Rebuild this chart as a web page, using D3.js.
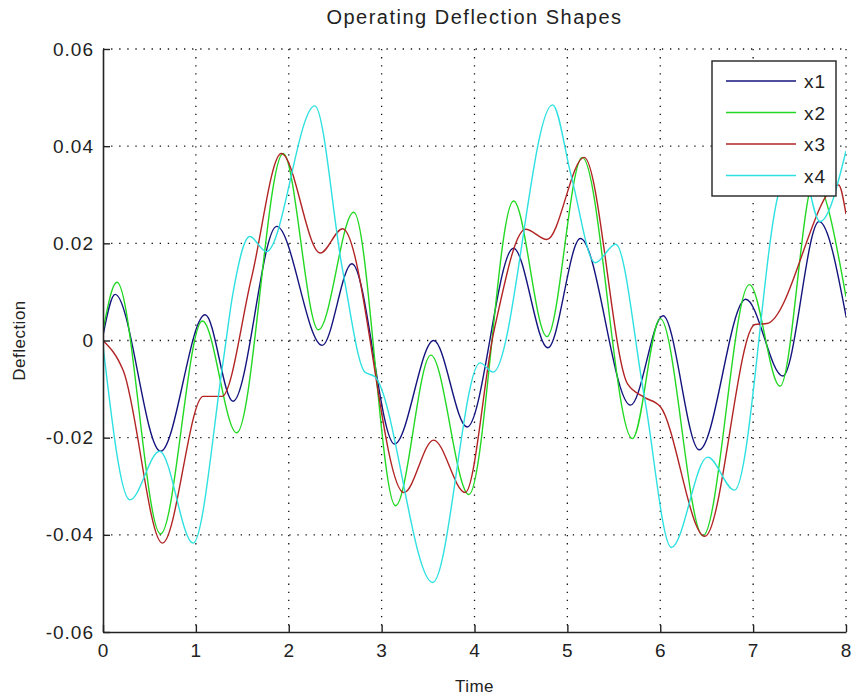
<!DOCTYPE html>
<html>
<head>
<meta charset="utf-8">
<script src="https://cdn.jsdelivr.net/npm/d3@7/dist/d3.min.js"></script>
<style>
  body { margin: 0; background: #fff; }
  text { font-family: "Liberation Sans", Arial, sans-serif; fill: #222; }
</style>
</head>
<body>
<script>
// values: [time, deflection] at peaks, troughs and shoulders
var x1 = [[0, 0.001], [0.13, 0.0095], [0.62, -0.0228], [1.1, 0.0053], [1.4, -0.0125],
          [1.87, 0.0235], [2.36, -0.001], [2.68, 0.0158], [3.14, -0.0213], [3.56, 0.0],
          [3.92, -0.0178], [4.42, 0.019], [4.79, -0.0015], [5.14, 0.021], [5.68, -0.0133],
          [6.03, 0.0051], [6.42, -0.0225], [6.92, 0.0085], [7.32, -0.0073], [7.71, 0.0245],
          [8, 0.005]];
var x2 = [[0, 0.002], [0.15, 0.012], [0.62, -0.0398], [1.07, 0.004], [1.44, -0.019],
          [1.94, 0.0385], [2.32, 0.0022], [2.7, 0.0264], [3.15, -0.034], [3.53, -0.003],
          [3.94, -0.0317], [4.42, 0.0287], [4.78, 0.0008], [5.16, 0.0377], [5.7, -0.0202],
          [6.0, 0.0045], [6.46, -0.0402], [6.96, 0.0115], [7.29, -0.0094], [7.66, 0.033],
          [8, 0.009]];
var x3 = [[0, 0.0], [0.22, -0.0063], [0.64, -0.0417], [1.08, -0.0115], [1.28, -0.0115],
          [1.6, 0.013], [1.92, 0.0385], [2.34, 0.018], [2.58, 0.023], [3.24, -0.0313],
          [3.56, -0.0205], [3.9, -0.0313], [4.21, 0.002], [4.55, 0.0229], [4.78, 0.0208],
          [5.18, 0.0377], [5.65, -0.009], [5.83, -0.0117], [6.0, -0.0136], [6.48, -0.0403],
          [7.02, 0.0033], [7.15, 0.0035], [7.92, 0.032], [8, 0.026]];
var x4 = [[0, -0.001], [0.29, -0.0328], [0.61, -0.0228], [0.97, -0.0417], [1.29, -0.0048],
          [1.4, 0.0098], [1.58, 0.0214], [1.76, 0.0183], [2.28, 0.0483], [2.58, 0.0145],
          [2.82, -0.0065], [2.93, -0.0075], [3.55, -0.0498], [4.06, -0.0046], [4.2, -0.0065],
          [4.84, 0.0485], [5.04, 0.034], [5.3, 0.016], [5.52, 0.0198], [5.83, -0.0117],
          [6.12, -0.0426], [6.51, -0.024], [6.8, -0.0308], [7.27, 0.03], [7.47, 0.04],
          [7.72, 0.0245], [8, 0.039]];

var names = ["x1", "x2", "x3", "x4"];
var colors = ["#14147e", "#22d822", "#b22424", "#2ee0e0"];
var xTicks = [0, 1, 2, 3, 4, 5, 6, 7, 8];
var yTicks = [-0.06, -0.04, -0.02, 0, 0.02, 0.04, 0.06];

var W = 853, H = 698;
var pLeft = 103, pRight = 846, pTop = 49, pBottom = 632;

var svg = d3.select("body").append("svg")
    .attr("width", W)
    .attr("height", H);

var x = d3.scaleLinear().domain([0, 8]).range([pLeft, pRight]);
var y = d3.scaleLinear().domain([-0.06, 0.06]).range([pBottom, pTop]);

// dotted grid
svg.selectAll(".vgrid")
   .data(xTicks.slice(1))
   .enter().append("line")
   .attr("x1", function(d) { return x(d); })
   .attr("x2", function(d) { return x(d); })
   .attr("y1", pTop).attr("y2", pBottom)
   .attr("stroke", "#111").attr("stroke-width", 1.3)
   .attr("stroke-dasharray", "1.3,6.8");

svg.selectAll(".hgrid")
   .data(yTicks.slice(1))
   .enter().append("line")
   .attr("y1", function(d) { return y(d); })
   .attr("y2", function(d) { return y(d); })
   .attr("x1", pLeft).attr("x2", pRight)
   .attr("stroke", "#111").attr("stroke-width", 1.3)
   .attr("stroke-dasharray", "1.3,6.8");

svg.append("clipPath").attr("id", "plot")
   .append("rect").attr("x", pLeft).attr("y", pTop)
   .attr("width", pRight - pLeft).attr("height", pBottom - pTop);

var line = d3.line()
    .x(function(d) { return x(d[0]); })
    .y(function(d) { return y(d[1]); })
    .curve(d3.curveMonotoneX);

var series = [x1, x2, x3, x4];
svg.append("g").attr("clip-path", "url(#plot)")
   .selectAll("path")
   .data(series)
   .enter().append("path")
   .attr("d", line)
   .attr("fill", "none")
   .attr("stroke", function(d, i) { return colors[i]; })
   .attr("stroke-width", 1.4);

// axes: left and bottom, ticks pointing inward
var xAxis = d3.axisBottom(x).tickValues(xTicks).tickSizeInner(-7).tickSizeOuter(0)
    .tickPadding(16).tickFormat(function(d) { return String(d); });
var yAxis = d3.axisLeft(y).tickValues(yTicks).tickSizeInner(-7).tickSizeOuter(0)
    .tickPadding(16).tickFormat(function(d) { return d === 0 ? "0" : d.toFixed(2); });

var gx = svg.append("g").attr("transform", "translate(0," + pBottom + ")").call(xAxis);
var gy = svg.append("g").attr("transform", "translate(" + pLeft + ",0)").call(yAxis);

[gx, gy].forEach(function(g) {
  g.select(".domain").attr("stroke", "#222").attr("stroke-width", 1.6);
  g.selectAll(".tick line").attr("stroke", "#222").attr("stroke-width", 1.4);
  g.selectAll(".tick text").attr("font-size", 19).attr("fill", "#222")
   .attr("letter-spacing", 1)
   .style("font-family", "'Liberation Sans', Arial, sans-serif");
});
gy.selectAll(".tick text").attr("x", -9);
gx.selectAll(".tick text").attr("y", 12);

// title and axis labels
svg.append("text")
   .attr("x", (pLeft + pRight) / 2).attr("y", 24)
   .attr("text-anchor", "middle")
   .attr("font-size", 20)
   .attr("letter-spacing", 1.5)
   .text("Operating Deflection Shapes");

svg.append("text")
   .attr("x", (pLeft + pRight) / 2).attr("y", 692)
   .attr("text-anchor", "middle")
   .attr("font-size", 17)
   .attr("letter-spacing", 0.5)
   .text("Time");

svg.append("text")
   .attr("transform", "translate(25," + ((pTop + pBottom) / 2) + ") rotate(-90)")
   .attr("text-anchor", "middle")
   .attr("font-size", 17)
   .attr("letter-spacing", 0.5)
   .text("Deflection");

// legend
var lg = svg.append("g");
lg.append("rect")
  .attr("x", 712).attr("y", 61)
  .attr("width", 124).attr("height", 135)
  .attr("fill", "#fff").attr("stroke", "#222").attr("stroke-width", 1.4);

var rows = lg.selectAll(".row")
    .data(names)
    .enter().append("g")
    .attr("transform", function(d, i) { return "translate(0," + (81 + i * 31.5) + ")"; });

rows.append("line")
    .attr("x1", 726).attr("x2", 796)
    .attr("stroke", function(d, i) { return colors[i]; })
    .attr("stroke-width", 1.4);

rows.append("text")
    .attr("x", 804).attr("y", 7)
    .attr("font-size", 19)
    .attr("letter-spacing", 1)
    .text(function(d) { return d; });
</script>
</body>
</html>
